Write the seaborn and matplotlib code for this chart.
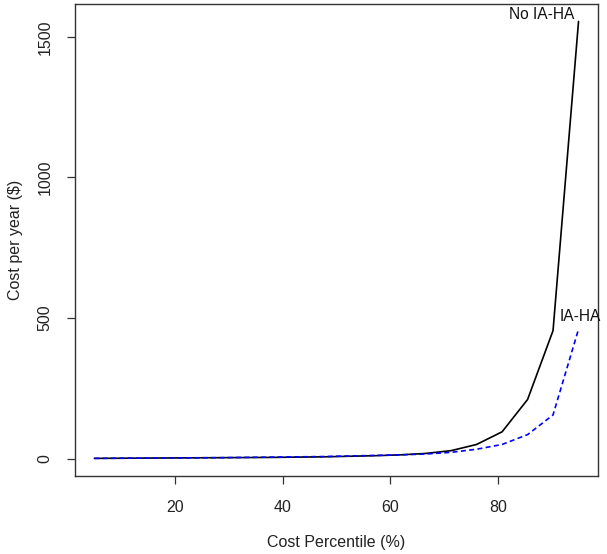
import pandas as pd
import numpy as np
import matplotlib
matplotlib.use("Agg")
import matplotlib.pyplot as plt
import seaborn as sns

# percentiles (seq 5..95, 20 points) and yearly cost per group
percentile = [5.00, 9.74, 14.47, 19.21, 23.95, 28.68, 33.42, 38.16, 42.89, 47.63,
              52.37, 57.11, 61.84, 66.58, 71.32, 76.05, 80.79, 85.53, 90.26, 95.00]
cost_no_iaha = [0.5, 1, 1.5, 2, 2.5, 3, 3.5, 4, 5, 6,
                8, 10, 13, 18, 28, 50, 95, 210, 455, 1555]
cost_iaha = [0.5, 1, 1.5, 2, 2.5, 3, 4, 5, 6, 7,
             9, 11, 13, 16, 22, 33, 50, 85, 155, 460]

df = pd.DataFrame({
    "percentile": percentile * 2,
    "cost": cost_no_iaha + cost_iaha,
    "group": ["No IA-HA"] * len(percentile) + ["IA-HA"] * len(percentile),
})

sns.set_style("white")
plt.rcParams["font.family"] = ["Liberation Sans", "DejaVu Sans"]

fig = plt.figure(figsize=(6.07, 5.54), dpi=100)
ax = fig.add_axes([0.1236, 0.1408, 0.8614, 0.852])

sns.lineplot(data=df, x="percentile", y="cost", hue="group", style="group",
             palette={"No IA-HA": "black", "IA-HA": "blue"},
             dashes={"No IA-HA": "", "IA-HA": (3, 2)},
             linewidth=1.2, legend=False, ax=ax)

# R-style 4% axis padding
xr = max(percentile) - min(percentile)
ax.set_xlim(min(percentile) - 0.04 * xr, max(percentile) + 0.04 * xr)
yr = max(cost_no_iaha)
ax.set_ylim(-0.04 * yr, yr * 1.04)

ax.set_xticks([20, 40, 60, 80])
ax.set_yticks([0, 500, 1000, 1500])
ax.tick_params(axis="both", direction="out", length=6, width=0.9, colors="#333333",
               labelcolor="#222222", labelsize=11.5, left=True, bottom=True)
ax.tick_params(axis="x", pad=11)
ax.tick_params(axis="y", pad=10)
for lbl in ax.get_yticklabels():
    lbl.set_rotation(90)
    lbl.set_va("center")

for s in ax.spines.values():
    s.set_color("#333333")
    s.set_linewidth(1.0)

ax.set_xlabel("Cost Percentile (%)", fontsize=11.5, labelpad=15, color="#222222")
ax.set_ylabel("Cost per year ($)", fontsize=11.5, labelpad=11, color="#222222")

ax.text(94.3, 1579, "No IA-HA", ha="right", va="center", fontsize=11.2, color="#111111")
ax.text(91.4, 507, "IA-HA", ha="left", va="center", fontsize=11.2, color="#111111")

fig.savefig("out.png", dpi=100)
